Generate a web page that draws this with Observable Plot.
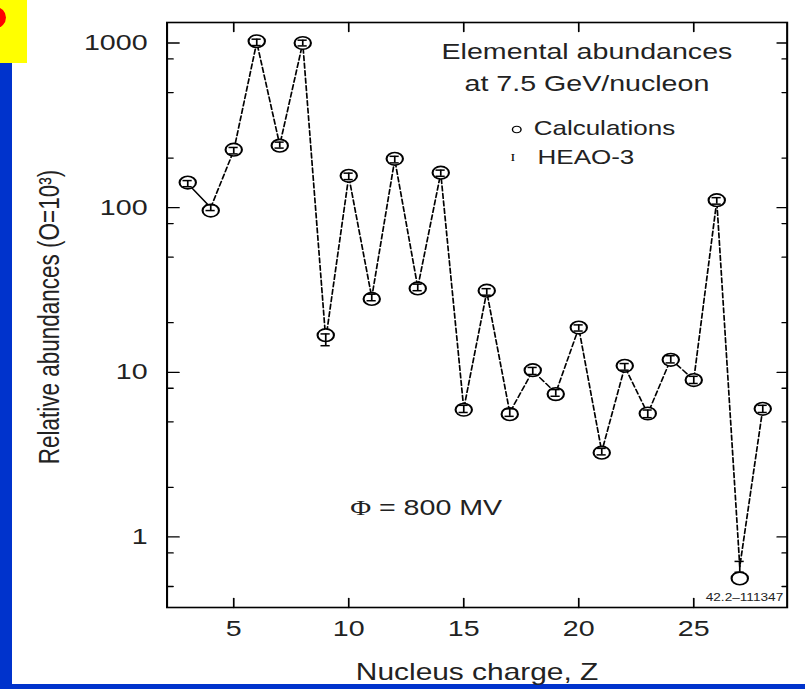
<!DOCTYPE html>
<html>
<head>
<meta charset="utf-8">
<script src="https://cdn.jsdelivr.net/npm/d3@7"></script>
<script src="https://cdn.jsdelivr.net/npm/@observablehq/plot@0.6"></script>
<style>
  html, body { margin: 0; padding: 0; background: #0033cc; }
  #page { position: relative; width: 805px; height: 689px; background: #0033cc; overflow: hidden; }
  #panel { position: absolute; left: 12px; top: 0; width: 793px; height: 684px; background: #ffffff; }
  #chart { position: absolute; left: 0; top: 0; transform: scaleX(1.3); transform-origin: 0 0; }
  #badge { position: absolute; left: 0; top: 0; width: 27px; height: 63px; background: #ffff00; overflow: hidden; }
  #badge .dot { position: absolute; left: -15px; top: 7px; width: 21px; height: 21px; border-radius: 50%; background: #ff0000; }
</style>
</head>
<body>
<div id="page">
  <div id="panel"></div>
  <div id="chart"></div>
  <div id="badge"><div class="dot"></div></div>
</div>
<script>
// Nuclear charge Z of each element
const Z = [3, 4, 5, 6, 7, 8, 9, 10, 11, 12, 13, 14, 15, 16, 17, 18, 19, 20, 21, 22, 23, 24, 25, 26, 27, 28];

// Calculated relative abundances (O = 1000)
const calculated = [142, 96, 225, 1025, 238, 1000, 16.8, 156, 27.9, 198, 32.3, 163,
                    5.92, 31.3, 5.57, 10.3, 7.37, 18.7, 3.25, 10.95, 5.62, 11.9, 8.97, 111, 0.56, 6.0];

// HEAO-3 measured abundances and their errors
const heao = [140, 100, 222, 1010, 240, 1000, 15.8, 155, 28.5, 196, 32.8, 162,
              6.0, 30.8, 5.7, 10.2, 7.5, 18.6, 3.3, 10.8, 5.6, 12.0, 9.0, 110, 0.66, 6.0];
const heaoErr = [6, 4, 10, 45, 10, 40, 1.3, 7, 1.3, 9, 1.5, 7,
                 0.3, 1.4, 0.3, 0.5, 0.35, 0.8, 0.15, 0.5, 0.3, 0.6, 0.45, 5, 0.05, 0.3];

// Axis ticks
const xTicks = [5, 10, 15, 20, 25];
const yMajorTicks = [1, 10, 100, 1000];
const yMinorTicks = [0.5, 0.8, 2, 5, 8, 20, 50, 80, 200, 500, 800];

const calcData = Z.map((z, i) => ({z, v: calculated[i]}));
const heaoData = Z.map((z, i) => ({z, v: heao[i], lo: heao[i] - heaoErr[i], hi: heao[i] + heaoErr[i]}));

// The drawing is widened horizontally by the CSS transform on #chart
const stretch = 1.3;
const font = "'Liberation Sans', Arial, Helvetica, sans-serif";

// plain line used for inward-pointing tick marks
const tickShape = {draw(context, l) { context.moveTo(0, 0); context.lineTo(0, -l); }};
const tickOpts = {anchor: "start", shape: tickShape, stroke: "black", strokeWidth: 1.3};

const capHalf = 0.2;

// shared settings for annotation text
const note = {text: d => d, lineAnchor: "middle", fill: "#222"};

const chart = Plot.plot({
  width: Math.round(805 / stretch),
  height: 689,
  marginLeft: 128,
  marginRight: 14,
  marginTop: 22,
  marginBottom: 82,
  style: {background: "transparent", fontFamily: font, fontSize: "22px", color: "black", overflow: "visible"},
  x: {domain: [2.1, 29.06]},
  y: {type: "log", domain: [0.3727, 1332]},
  marks: [
    // tick labels
    Plot.axisX({ticks: xTicks, tickSize: 0, tickPadding: 13, label: null, fontSize: 22, fill: "#222"}),
    Plot.axisY({ticks: yMajorTicks, tickSize: 0, tickPadding: 15, label: null, fontSize: 22, fill: "#222",
                tickFormat: d => String(d)}),

    // inward ticks on all four sides
    Plot.vector(xTicks, {x: d => d, frameAnchor: "bottom", rotate: 0, length: 9, ...tickOpts}),
    Plot.vector(xTicks, {x: d => d, frameAnchor: "top", rotate: 180, length: 9, ...tickOpts}),
    Plot.vector(yMajorTicks, {y: d => d, frameAnchor: "left", rotate: 90, length: 12 / stretch, ...tickOpts}),
    Plot.vector(yMinorTicks, {y: d => d, frameAnchor: "left", rotate: 90, length: 6 / stretch, ...tickOpts}),
    Plot.vector(yMajorTicks, {y: d => d, frameAnchor: "right", rotate: 270, length: 10 / stretch, ...tickOpts}),
    Plot.vector(yMinorTicks, {y: d => d, frameAnchor: "right", rotate: 270, length: 5 / stretch, ...tickOpts}),

    // connecting line through the measurements
    Plot.line(heaoData.slice(0, 2), {x: "z", y: "v", stroke: "black", strokeWidth: 1.3}),
    Plot.line(heaoData.slice(1), {x: "z", y: "v", stroke: "black", strokeWidth: 1.3, strokeDasharray: "5,2.5"}),

    // calculations
    Plot.dot(calcData, {x: "z", y: "v", r: 6.3, fill: "white", stroke: "black", strokeWidth: 1.6}),

    // HEAO-3 error bars
    Plot.ruleX(heaoData, {x: "z", y1: "lo", y2: "hi", stroke: "black", strokeWidth: 1.3}),
    Plot.ruleY(heaoData, {y: "lo", x1: d => d.z - capHalf, x2: d => d.z + capHalf, stroke: "black", strokeWidth: 1.5}),
    Plot.ruleY(heaoData, {y: "hi", x1: d => d.z - capHalf, x2: d => d.z + capHalf, stroke: "black", strokeWidth: 1.5}),

    Plot.frame({stroke: "black", strokeWidth: 1.6}),

    // title block and legend
    Plot.text(["Elemental abundances"], {...note, frameAnchor: "top-left", dx: 323, dy: 29, textAnchor: "middle", fontSize: 22}),
    Plot.text(["at 7.5 GeV/nucleon"], {...note, frameAnchor: "top-left", dx: 323, dy: 61, textAnchor: "middle", fontSize: 22}),
    Plot.dot([0], {frameAnchor: "top-left", dx: 269, dy: 107, r: 3.3, stroke: "black", strokeWidth: 1.1}),
    Plot.text(["Calculations"], {...note, frameAnchor: "top-left", dx: 282, dy: 106, textAnchor: "start", fontSize: 20}),
    Plot.text(["I"], {...note, frameAnchor: "top-left", dx: 266, dy: 135, textAnchor: "middle", fontSize: 11, fontFamily: "'Liberation Serif', serif", fill: "black"}),
    Plot.text(["HEAO-3"], {...note, frameAnchor: "top-left", dx: 285, dy: 135, textAnchor: "start", fontSize: 20}),

    // modulation potential
    Plot.text(["Φ"], {...note, frameAnchor: "top-left", dx: 149, dy: 485, textAnchor: "middle", fontSize: 22, fontFamily: "'Liberation Serif', serif"}),
    Plot.text(["= 800 MV"], {...note, frameAnchor: "top-left", dx: 163, dy: 485, textAnchor: "start", fontSize: 22}),

    // figure number
    Plot.text(["42.2–111347"], {...note, frameAnchor: "bottom-right", dx: -3, dy: -9.5, textAnchor: "end", fontSize: 10.5}),

    // axis titles
    Plot.text(["Nucleus charge, Z"], {...note, frameAnchor: "bottom", dy: 65.5, textAnchor: "middle", fontSize: 23}),
    Plot.text(["Relative abundances (O=10³)"], {...note, frameAnchor: "left", dx: -90, dy: 2, rotate: -90, textAnchor: "middle", fontSize: 22.5})
  ]
});

document.getElementById("chart").appendChild(chart);
</script>
</body>
</html>
